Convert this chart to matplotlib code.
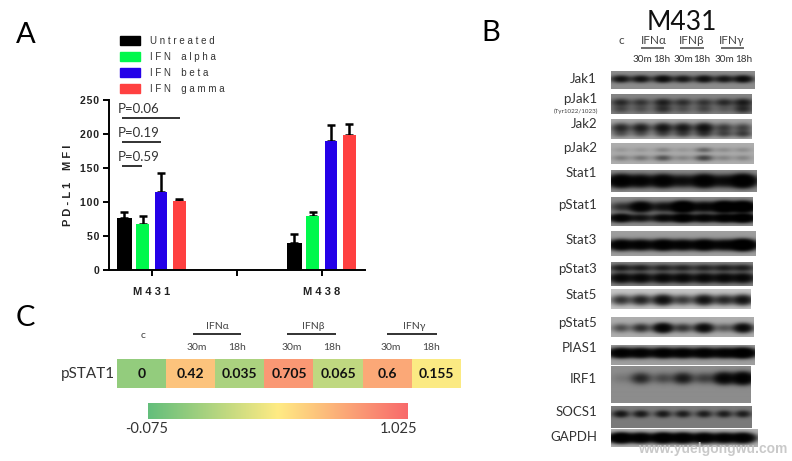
import numpy as np
import matplotlib
matplotlib.use("Agg")
import matplotlib.pyplot as plt
from matplotlib.colors import LinearSegmentedColormap, TwoSlopeNorm
from matplotlib.patches import Patch

W, H = 792, 461
TEXT_FONT = ["Lato", "DejaVu Sans"]
AXIS_FONT = ["Liberation Sans", "DejaVu Sans"]

def spaced(s):
    return " ".join(s.replace(" ", "\u2002"))

# ---- Panel A data
groups = ["M431", "M438"]
treatments = ["Untreated", "IFN alpha", "IFN beta", "IFN gamma"]
m431_mean = [76, 68, 114, 102]
m431_err = [9, 12, 29, 2]
m438_mean = [40, 79, 190, 199]
m438_err = [13, 7, 23, 16]
y_ticks = [0, 50, 100, 150, 200, 250]
p_labels = ["P=0.06", "P=0.19", "P=0.59"]

# ---- Panel C data
heat_values = [0, 0.42, 0.035, 0.705, 0.065, 0.6, 0.155]
heat_min, heat_max = -0.075, 1.025
heat_row = "pSTAT1"
ifn_labels = ["IFN\u03b1", "IFN\u03b2", "IFN\u03b3"]
time_labels = ["30m", "18h"]

# ---- Panel B data: band strength per lane
jak1 = [1.5, 1.5, 1.9, 1.4, 1.7, 1.4, 1.9]
pjak1 = [0.9, 0.7, 1.1, 0.8, 0.7, 0.9, 1.2]
pjak1_b = [0.5, 0.4, 0.8, 0.4, 0.5, 0.3, 0.9]
jak2 = [1.1, 1.3, 1.6, 1.5, 1.8, 0.8, 0.7]
jak2_b = [0.4, 0.4, 0.5, 0.6, 0.7, 0.6, 0.7]
pjak2 = [0.1, 0.1, 0.2, 0.1, 0.4, 0.15, 0.15]
pjak2_b = [0.25, 0.3, 0.55, 0.2, 0.7, 0.2, 0.2]
stat1 = [4.0, 2.8, 3.6, 1.8, 4.0, 1.8, 5.0]
pstat1 = [0.8, 3.5, 1.6, 6.0, 2.5, 6.0, 6.0]
pstat1_b = [3.0, 1.6, 2.2, 4.0, 2.8, 3.5, 5.0]
stat3 = [3.5, 3.0, 4.0, 3.0, 4.0, 2.6, 6.0]
pstat3 = [1.2, 1.1, 1.0, 1.0, 1.0, 1.1, 1.1]
pstat3_b = [2.2, 2.2, 2.2, 2.2, 2.2, 2.2, 2.2]
stat5 = [1.0, 1.3, 2.0, 0.9, 1.8, 1.2, 1.8]
pstat5 = [0.6, 1.0, 2.8, 0.9, 2.2, 0.5, 2.2]
pias1 = [3.5, 3.2, 3.5, 3.2, 3.5, 3.0, 4.5]
irf1 = [0.12, 1.0, 0.5, 1.3, 0.6, 2.5, 3.5]
socs1 = [1.3, 1.2, 1.2, 1.1, 1.1, 1.1, 1.1]
gapdh = [5.0, 4.0, 5.0, 4.5, 4.0, 3.5, 4.0]

fig = plt.figure(figsize=(W / 100, H / 100), dpi=100, facecolor="white")

def px_axes(x0, y0, x1, y1, **kw):
    return fig.add_axes([x0 / W, 1 - y1 / H, (x1 - x0) / W, (y1 - y0) / H], **kw)

ov = fig.add_axes([0, 0, 1, 1], zorder=5)
ov.set_xlim(0, W)
ov.set_ylim(H, 0)
ov.axis("off")
ov.patch.set_alpha(0)

def t(x, y, s, size, ha="center", weight="normal", color="#222222", family=TEXT_FONT, **kw):
    ov.text(x, y, s, fontsize=size, ha=ha, va="center", fontweight=weight,
            color=color, family=family, **kw)

def rule(x0, x1, y, lw=1.4, color="#222222"):
    ov.plot([x0, x1], [y, y], color=color, lw=lw, solid_capstyle="butt")

for letter, x, y in [("A", 26, 35), ("B", 491, 33), ("C", 25, 318)]:
    t(x, y, letter, 21, color="black")

# ---- Panel A
ax = px_axes(109, 100, 365, 270)
bar_colors = ["#000000", "#00F84C", "#2400E8", "#FF4040"]
offsets = [-0.325, -0.11, 0.105, 0.32]
widths = [0.175, 0.15, 0.15, 0.15]
centers = [0, 2]
for center, means, errs in [(centers[0], m431_mean, m431_err), (centers[1], m438_mean, m438_err)]:
    for i in range(4):
        ax.bar(center + offsets[i], means[i], widths[i], color=bar_colors[i], zorder=2)
        ax.errorbar(center + offsets[i], means[i], yerr=[[0], [errs[i]]], color="black",
                    lw=1.8, capsize=2.6, capthick=1.8, zorder=1)
ax.set_xlim(-0.506, 2.506)
ax.set_ylim(0, 250)
for side in ("top", "right"):
    ax.spines[side].set_visible(False)
for side in ("left", "bottom"):
    ax.spines[side].set_linewidth(1.4)
ax.set_yticks(y_ticks)
ax.set_yticklabels([spaced(str(v)).replace(" ", "\u200a") for v in y_ticks], fontsize=7.5,
                   fontweight="bold", family=AXIS_FONT, color="#222222")
ax.set_xticks([0, 1, 2])
ax.set_xticklabels([spaced(groups[0]), "", spaced(groups[1])], fontsize=8, fontweight="bold",
                   family=AXIS_FONT, color="#222222")
ax.tick_params(axis="y", length=4, width=1.4, pad=3)
ax.tick_params(axis="x", length=4, width=1.4, pad=8)
ax.set_ylabel(spaced("PD-L1 MFI"), fontsize=8, fontweight="bold", family=AXIS_FONT,
              color="#222222", labelpad=5, y=0.5)
handles = [Patch(color=c) for c in bar_colors]
leg = fig.legend(handles, [spaced(s) for s in treatments], loc="upper left",
                 bbox_to_anchor=(120 / W, 1 - 36 / H), frameon=False,
                 prop={"family": AXIS_FONT, "size": 7}, handlelength=2.1, handleheight=1.1,
                 labelspacing=0.62, handletextpad=0.95, borderpad=0, borderaxespad=0)
for txt in leg.get_texts():
    txt.set_color("#333333")

for label, y_text, y_line, x_end in zip(p_labels, [109, 133, 157], [118, 142, 166], [180, 161, 142]):
    t(118, y_text, label, 9.5, ha="left", color="#333333")
    rule(122, x_end, y_line, lw=1.3)

# ---- Panel C
cmap = LinearSegmentedColormap.from_list("gyr", ["#63BE7B", "#FFEB84", "#F8696B"])
norm = TwoSlopeNorm(vmin=heat_min, vcenter=0.16, vmax=heat_max)
hax = px_axes(117, 359, 461, 388)
hax.imshow(np.array([heat_values]), cmap=cmap, norm=norm, aspect="auto")
hax.set_xticks([])
hax.set_yticks([])
for s in hax.spines.values():
    s.set_visible(False)
for i, v in enumerate(heat_values):
    hax.text(i, 0, str(v), ha="center", va="center", fontsize=10, fontweight="bold",
             family=TEXT_FONT, color="#111111")
t(115, 374, heat_row, 11, ha="right", color="#333333")
t(143, 335, "c", 7.5, color="#444444")
for label, cx, x0, x1 in zip(ifn_labels, [217, 313, 414], [193, 287, 387], [241, 336, 437]):
    t(cx, 326, label, 7.5, color="#444444")
    rule(x0, x1, 334, lw=1.3)
for x, s in zip([197, 237, 292, 332, 391, 431], time_labels * 3):
    t(x, 347, s, 7.5, color="#444444")

cax = px_axes(148, 403, 407, 419)
cax.imshow(np.linspace(0, 1, 256)[None, :], cmap=cmap, aspect="auto")
cax.axis("off")
t(147, 429, str(heat_min), 10.5, color="#333333")
t(399, 429, str(heat_max), 10.5, color="#333333")

# ---- Panel B
t(682, 22, "M431", 19, color="#111111")
t(621, 41, "c", 8.5, color="#444444")
for label, cx, x0, x1 in zip(ifn_labels, [654, 692, 732], [641, 680, 721], [664, 704, 744]):
    t(cx, 41, label, 8.5, color="#444444")
    rule(x0, x1, 48, lw=1.2, color="#555555")
for x, s in zip([642, 662, 683, 702, 724, 744], time_labels * 3):
    t(x, 60, s, 7.2, color="#333333")

lanes = [621, 641, 663, 683, 704, 724, 743]

def blot(x0, y0, x1, y1, bg, bands, sx=6.0):
    xs = np.arange(x0, x1) + 0.5
    ys = np.arange(y0, y1) + 0.5
    X, Y = np.meshgrid(xs, ys)
    raw = np.zeros_like(X)
    for strengths, yc, sy in bands:
        for lane, a in zip(lanes, strengths):
            raw += a * np.exp(-((X - lane) ** 2) / (2 * sx ** 2) - ((Y - yc) ** 2) / (2 * sy ** 2))
    img = bg * np.exp(-1.3 * raw)
    ov.imshow(img, extent=(x0, x1, y1, y0), cmap="gray", vmin=0, vmax=1,
              aspect="auto", interpolation="bilinear", zorder=1)

blot(611, 71, 755, 89, 0.55, [(jak1, 79, 2.2)])
blot(611, 95, 752, 114, 0.52, [(pjak1, 103, 2.2), (pjak1_b, 109, 2.6)])
blot(611, 119, 752, 139, 0.66, [(jak2, 128, 3.0), (jak2_b, 134, 2.2)])
blot(611, 143, 754, 164, 0.68, [(pjak2, 150, 1.8), (pjak2_b, 158, 2.0)])
blot(611, 170, 757, 192, 0.55, [(stat1, 181, 3.6)], sx=7.5)
blot(611, 197, 753, 226, 0.55, [(pstat1, 207, 3.0), (pstat1_b, 218, 2.4)], sx=7)
blot(611, 231, 756, 256, 0.62, [(stat3, 245, 3.0)], sx=7.5)
blot(611, 262, 753, 286, 0.52, [(pstat3, 268, 2.2), (pstat3_b, 278, 3.0)], sx=7)
blot(611, 289, 751, 309, 0.78, [(stat5, 300, 3.2)], sx=6.5)
blot(611, 317, 754, 337, 0.68, [(pstat5, 328, 2.8)], sx=6)
blot(611, 345, 755, 365, 0.62, [(pias1, 353, 2.8)], sx=7.5)
blot(611, 367, 751, 403, 0.55, [(irf1, 379, 3.4)], sx=6.5)
blot(611, 406, 752, 428, 0.48, [(socs1, 414, 2.2)], sx=5)
blot(611, 429, 758, 447, 0.70, [(gapdh, 438, 2.8)], sx=7)
ov.set_xlim(0, W)
ov.set_ylim(H, 0)

blot_labels = [("Jak1", 79), ("pJak1", 99), ("Jak2", 124), ("pJak2", 148), ("Stat1", 173),
               ("pStat1", 205), ("Stat3", 240), ("pStat3", 269), ("Stat5", 295), ("pStat5", 323),
               ("PIAS1", 348), ("IRF1", 379), ("SOCS1", 412), ("GAPDH", 437)]
for name, y in blot_labels:
    t(597, y, name, 9.5, ha="right", color="#333333")
t(598, 111, "(Tyr1022/1023)", 4.5, ha="right", color="#444444")

t(787, 449, "www.yuelgongwu.com", 10, ha="right", weight="bold", color="#c4c4c4", family=AXIS_FONT,
  alpha=0.9)

fig.savefig("out.png", dpi=100)
